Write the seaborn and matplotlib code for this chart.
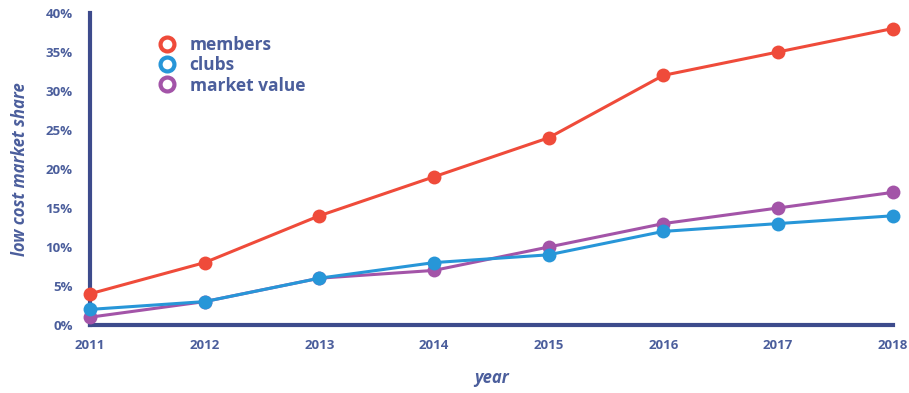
import matplotlib
matplotlib.use("Agg")
import matplotlib.pyplot as plt
from matplotlib.lines import Line2D
from matplotlib.ticker import MultipleLocator, FuncFormatter
import seaborn as sns
import pandas as pd

years = [2011, 2012, 2013, 2014, 2015, 2016, 2017, 2018]
members = [4, 8, 14, 19, 24, 32, 35, 38]
clubs = [2, 3, 6, 8, 9, 12, 13, 14]
market_value = [1, 3, 6, 7, 10, 13, 15, 17]
series_names = ["members", "clubs", "market value"]
colors = ["#ef4b3a", "#2796d8", "#a354a8"]

df = pd.DataFrame({
    "year": years * 3,
    "share": members + clubs + market_value,
    "series": [series_names[0]] * 8 + [series_names[1]] * 8 + [series_names[2]] * 8,
})

sns.set_style("white")
plt.rcParams["font.family"] = ["Open Sans", "DejaVu Sans"]

text_col = "#4b5e9c"
axis_col = "#3d4b8c"

fig = plt.figure(figsize=(9.09, 3.93), dpi=100)
ax = fig.add_axes([0.099, 0.173, 0.883, 0.794])

sns.lineplot(data=df, x="year", y="share", hue="series", hue_order=series_names,
             palette=colors, marker="o", markersize=10, markeredgewidth=0,
             linewidth=2.2, ax=ax, legend=False)
# clubs drawn above market value, members on top
for ln, z in zip(ax.lines, [4, 3.5, 3]):
    ln.set_clip_on(False)
    ln.set_zorder(z)

ax.set_xlim(2011, 2018)
ax.set_ylim(0, 40)
ax.set_xticks(years)
ax.yaxis.set_major_locator(MultipleLocator(5))
ax.yaxis.set_minor_locator(MultipleLocator(2.5))
ax.yaxis.set_major_formatter(FuncFormatter(lambda v, p: f"{int(v)}%"))

for s in ["top", "right"]:
    ax.spines[s].set_visible(False)
for s in ["left", "bottom"]:
    ax.spines[s].set_color(axis_col)
    ax.spines[s].set_linewidth(3)
    ax.spines[s].set_zorder(1)

ax.tick_params(axis="y", which="major", direction="inout", length=7, width=2,
               color=axis_col, labelsize=9.5, labelcolor=text_col, pad=9)
ax.tick_params(axis="y", which="minor", direction="inout", length=4, width=1.5,
               color=axis_col)
ax.tick_params(axis="x", which="major", direction="out", length=5, width=2,
               color=axis_col, labelsize=9.5, labelcolor=text_col, pad=5)
for lab in ax.get_xticklabels() + ax.get_yticklabels():
    lab.set_fontweight("bold")

ax.set_xlabel("year", fontsize=12, fontstyle="italic", fontweight="bold",
              color=text_col, labelpad=12)
ax.set_ylabel("low cost market share", fontsize=12, fontstyle="italic",
              fontweight="bold", color=text_col, labelpad=12)

handles = [Line2D([], [], linestyle="none", marker="o", markersize=10,
                  markerfacecolor="white", markeredgecolor=c, markeredgewidth=3)
           for c in colors]
leg = ax.legend(handles, series_names, loc="upper left",
                bbox_to_anchor=(0.055, 0.975), frameon=False, handletextpad=0.3,
                labelspacing=0.12, prop={"size": 12.5, "weight": "bold"})
for t in leg.get_texts():
    t.set_color(text_col)

fig.savefig("out.png", dpi=100)
